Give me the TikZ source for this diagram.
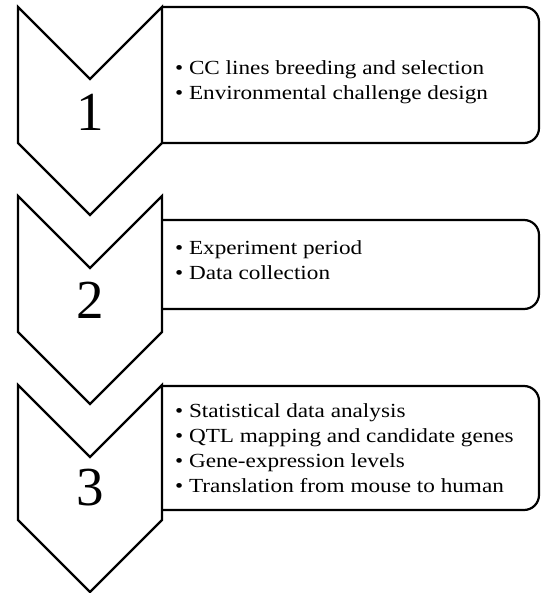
\documentclass[tikz,border=0pt]{standalone}
\usepackage{fontspec}
\setmainfont{Liberation Serif}
\newfontfamily\widefont[FakeStretch=1.16]{Liberation Serif}
\begin{document}
\begin{tikzpicture}[x=1pt,y=-1pt,
  line width=2.2pt, line join=miter,
  chev/.style={draw=black},
  frame/.style={draw=black, rounded corners=15pt},
  num/.style={font=\fontsize{55}{60}\selectfont, inner sep=0pt},
  items/.style={font=\widefont\fontsize{20}{25}\selectfont, align=left, anchor=west, inner sep=0pt}]
\useasboundingbox (0,0) rectangle (541,593);
% chevrons
\draw[chev] (18,7) -- (90,79) -- (162,7) -- (162,143) -- (90,215) -- (18,143) -- cycle;
\draw[chev] (18,196) -- (90,268) -- (162,196) -- (162,332) -- (90,404) -- (18,332) -- cycle;
\draw[chev] (18,385) -- (90,457) -- (162,385) -- (162,520) -- (90,592) -- (18,520) -- cycle;
% boxes
\draw[frame] (162,7) -- (539,7) -- (539,143) -- (162,143);
\draw[frame] (162,220) -- (539,220) -- (539,309) -- (162,309);
\draw[frame] (162,386) -- (539,386) -- (539,510) -- (162,510);
% numbers
\node[num] (n1) at (90,112) {1};
\node[num] (n2) at (90,300) {2};
\node[num] (n3) at (90,488) {3};
% texts
\node[items] (t1) at (174,82) {• CC lines breeding and selection\\• Environmental challenge design};
\node[items] (t2) at (174,260) {• Experiment period\\• Data collection};
\node[items] (t3) at (174,448) {• Statistical data analysis\\• QTL mapping and candidate genes\\• Gene-expression levels\\• Translation from mouse to human};
\end{tikzpicture}
\end{document}
